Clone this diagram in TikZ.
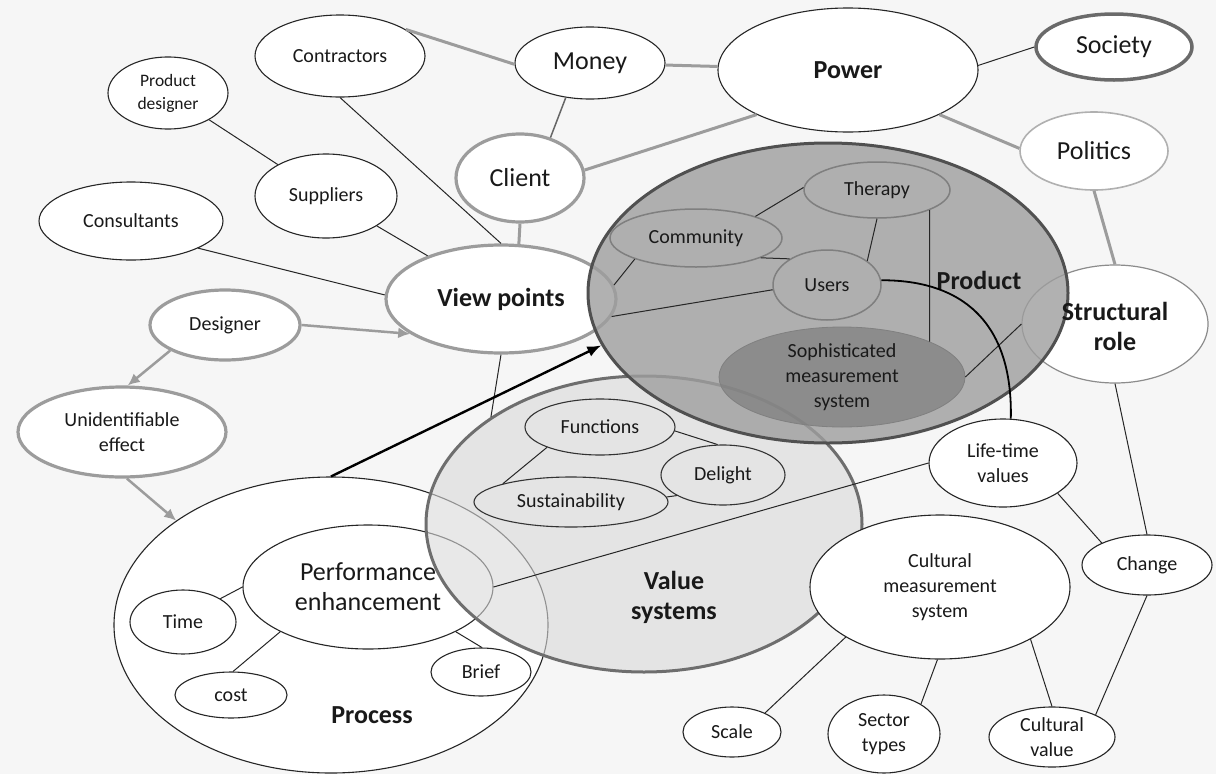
\documentclass[tikz,border=0pt]{standalone}
\usepackage{fontspec}
\setmainfont{Carlito}
\usetikzlibrary{shapes.geometric,arrows.meta}
\definecolor{bgc}{HTML}{F6F6F6}
\definecolor{grayA}{HTML}{9C9C9C}
\definecolor{pdfill}{HTML}{9E9E9E}
\definecolor{pdline}{HTML}{505050}
\definecolor{smfill}{HTML}{7E7E7E}
\definecolor{vsfill}{HTML}{D9D9D9}
\definecolor{vsline}{HTML}{6E6E6E}
\definecolor{inline}{HTML}{7F7F7F}
\definecolor{soline}{HTML}{6A6A6A}
\definecolor{poline}{HTML}{B0B0B0}
\definecolor{srline}{HTML}{8C8C8C}
\begin{document}
\begin{tikzpicture}[x=1pt,y=-1pt,
  base/.style={ellipse, inner sep=0pt, align=center, font=\fontsize{20}{25}\selectfont, text=black!90},
  el/.style={base, draw=black!85, line width=1.1pt, fill=white},
  gel/.style={base, draw=grayA, line width=3.2pt, fill=white},
  inel/.style={base, draw=inline, line width=1.5pt},
  sz/.style 2 args={minimum width=#1pt, minimum height=#2pt},
  bigf/.style={font=\fontsize{26}{30}\selectfont},
  bigb/.style={font=\fontsize{26}{30}\selectfont\bfseries},
  tl/.style={draw=black!85, line width=1pt},
  gl/.style={draw=grayA, line width=3pt},
  garr/.style={draw=grayA, line width=2.5pt, -{Latex[length=12pt,width=11pt]}},
  barr/.style={draw=black, line width=2.4pt, -{Latex[length=14pt,width=11pt]}},
  curvel/.style={draw=black, line width=1.8pt},
  lbl/.style={inner sep=0pt, align=center, text=black!90}
]
\useasboundingbox (0,0) rectangle (1216,774);
\fill[bgc] (0,0) rectangle (1216,774);

% Process group
\node[el, sz={434}{296}] (pr) at (331,625) {};
\node[el, sz={250}{124}, bigf] (pe) at (368,587) {Performance\\enhancement};
\node[el, sz={106}{64}] (ti) at (183,622) {Time};
\node[el, sz={112}{46}] (co) at (231,695) {cost};
\node[el, sz={100}{48}] (br) at (481,672) {Brief};
\node[lbl, bigb] (prl) at (372,715) {Process};

% shapes lying under the translucent regions
\node[gel, sz={230}{108}, bigb] (vp) at (501,299) {View points};
\node[base, draw=srline, line width=1.2pt, fill=white, sz={186}{118}] (sr) at (1115,324) {};

% Value systems
\node[base, draw=vsline, line width=3pt, fill=vsfill, fill opacity=0.6, draw opacity=1, sz={436}{296}] (vs) at (644,524) {};
\node[inel, draw=black!80, line width=1.1pt, sz={150}{56}] (fn) at (600,427) {Functions};
\node[inel, draw=black!80, line width=1.1pt, sz={194}{50}] (sus) at (571,502) {Sustainability};
\node[inel, draw=black!80, line width=1.1pt, sz={124}{60}] (dl) at (723,475) {Delight};
\node[lbl, bigb] (vsl) at (674,597) {Value\\systems};

% Product
\node[base, draw=pdline, line width=3pt, fill=pdfill, fill opacity=0.8, draw opacity=1, sz={480}{300}] (pd) at (828,293) {};
\node[base, draw=black!50, line width=0.8pt, fill=smfill, fill opacity=0.7, text opacity=1, sz={246}{100}] (sm) at (842,377) {Sophisticated\\measurement\\system};
\node[inel, sz={146}{56}] (th) at (877,190) {Therapy};
\node[inel, sz={172}{58}] (cm) at (696,238) {Community};
\node[inel, sz={108}{70}] (us) at (827,285) {Users};
\node[lbl, bigb] (pdl) at (979,280) {Product};
\node[lbl, bigb] (srl) at (1115,326) {Structural\\role};

% outer nodes
\node[el, sz={170}{82}] (con) at (340,56) {Contractors};
\node[el, sz={150}{72}, bigf] (mo) at (590,63) {Money};
\node[el, sz={260}{124}, bigb] (pw) at (848,70) {Power};
\node[base, draw=soline, line width=3.5pt, fill=white, sz={156}{66}, bigf] (so) at (1114,47) {Society};
\node[base, draw=poline, line width=1.6pt, fill=white, sz={148}{78}, bigf] (po) at (1094,151) {Politics};
\node[el, sz={120}{72}, font=\fontsize{17.5}{23}\selectfont] (pdz) at (168,93) {Product\\designer};
\node[el, sz={142}{84}] (su) at (326,196) {Suppliers};
\node[el, sz={184}{78}] (cons) at (131,221) {Consultants};
\node[gel, sz={150}{70}] (de) at (225,325) {Designer};
\node[gel, sz={128}{88}, bigf] (cl) at (520,178) {Client};
\node[gel, sz={208}{90}] (ue) at (122,432) {Unidentifiable\\effect};
\node[el, sz={148}{88}] (lt) at (1003,463) {Life-time\\values};
\node[el, sz={130}{60}] (ch) at (1147,565) {Change};
\node[el, sz={260}{144}] (cms) at (940,587) {Cultural\\measurement\\system};
\node[el, sz={98}{50}] (sc) at (732,732) {Scale};
\node[el, sz={112}{78}] (st) at (884,734) {Sector\\types};
\node[el, sz={126}{60}] (cv) at (1052,737) {Cultural\\value};

% connectors
\draw[gl] (con.22) -- (mo.181);
\draw[gl] (mo) -- (pw);
\draw[gl] (cl.7) -- (pw.206);
\draw[tl] (pw.2) -- (so.180);
\draw[gl] (pw.-26) -- (po.178);
\draw[gl] (po.south) -- (sr.north);
\draw[gl] (cl.south) -- (vp.72);
\draw[draw=black!60, line width=1.5pt] (cl.53) -- (mo.235);
\draw[tl] (con.south) -- (vp.north);
\draw[tl] (pdz) -- (su);
\draw[tl] (su) -- (vp);
\draw[tl] (cons.-22) -- (vp.178);
\draw[garr] (de.east) -- (vp.201);
\draw[garr] (de.205) -- (ue.83);
\draw[garr] (ue.-84) -- (pr.146);
\draw[tl] (vp.south) -- (vs.145);
\draw[barr] (pr.north) -- (pd.193);
\draw[tl] (pe.west) -- (ti.32);
\draw[tl] (pe.207) -- (co.85);
\draw[tl] (pe.-27) -- (br.88);
\draw[tl] (pe.east) -- (lt.west);
\draw[tl] (fn.201) -- (sus.165);
\draw[tl] (fn.-3) -- (dl.100);
\draw[tl] (sus.3) -- (dl.204);
\draw[tl] (cm.20) -- (th.178);
\draw[tl] (th.south) -- (us.31);
\draw[tl] (cm.-17) -- (us.145);
\draw[tl] (cm.199) -- (vp.7);
\draw[tl] (us.185) -- (vp.-9);
\draw[tl] (th.-21) -- (sm.22);
\draw[tl] (sm.east) -- (sr.west);
\draw[curvel] (us.5) .. controls (960,280) and (1013,320) .. (lt.80);
\draw[tl] (lt.-29) -- (ch.154);
\draw[tl] (ch.south) -- (cv.27);
\draw[tl] (sr.south) -- (ch.north);
\draw[tl] (cms.208) -- (sc.30);
\draw[tl] (cms.268) -- (st.39);
\draw[tl] (cms.-30) -- (cv.north);
\end{tikzpicture}
\end{document}
